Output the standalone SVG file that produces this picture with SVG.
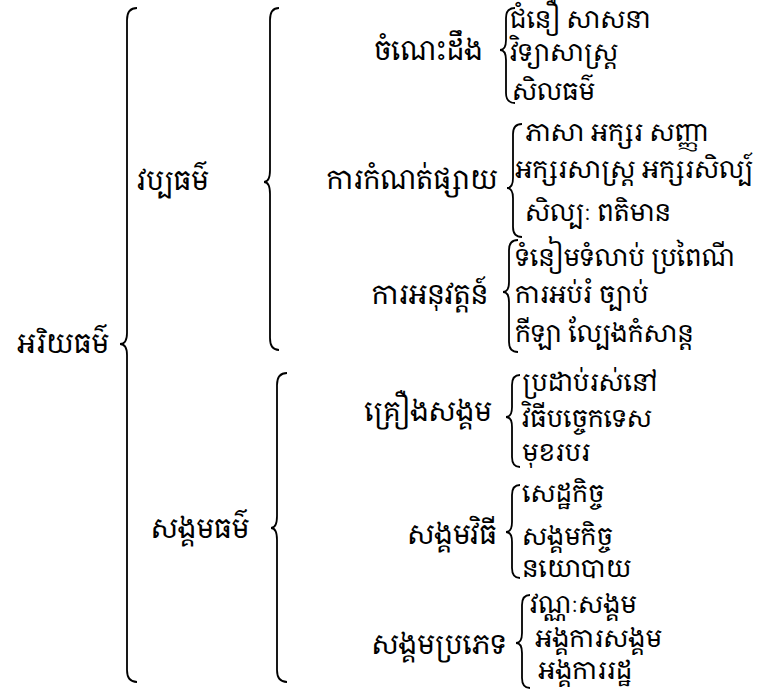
<svg xmlns="http://www.w3.org/2000/svg" width="765" height="690" viewBox="0 0 765 690">
<style>
text{font-family:"Khmer OS System","Khmer OS","Noto Serif Khmer","Noto Sans Khmer","Khmer UI","DejaVu Sans",sans-serif;font-size:25px;fill:#000}
.lab{font-size:27px;text-anchor:middle}
.br{fill:none;stroke:#000;stroke-width:1.8}
</style>
<rect width="765" height="690" fill="#fff"/>
<g id="connectors">
<path class="br" d="M137,8 Q127,8 127,20 L127,333 Q127,344 120,344 Q127,344 127,355 L127,670 Q127,682 137,682"/>
<path class="br" d="M279,8 Q270,8 270,20 L270,170 Q270,182 264,182 Q270,182 270,194 L270,338 Q270,350 279,350"/>
<path class="br" d="M287,373 Q277,373 277,385 L277,516 Q277,528 271,528 Q277,528 277,540 L277,670 Q277,682 287,682"/>
<path class="br" d="M515,8 Q506,8 506,18 L506,40 Q506,50 500,50 Q506,50 506,60 L506,93 Q506,103 515,103"/>
<path class="br" d="M522,124 Q513,124 513,134 L513,178 Q513,188 507,188 Q513,188 513,198 L513,227 Q513,237 522,237"/>
<path class="br" d="M518,240 Q509,240 509,250 L509,282 Q509,292 503,292 Q509,292 509,302 L509,342 Q509,352 518,352"/>
<path class="br" d="M520,375 Q512,375 512,385 L512,407 Q512,417 506,417 Q512,417 512,427 L512,457 Q512,467 520,467"/>
<path class="br" d="M520,485 Q512,485 512,495 L512,522 Q512,532 506,532 Q512,532 512,542 L512,568 Q512,578 520,578"/>
<path class="br" d="M530,595 Q522,595 522,605 L522,633 Q522,643 516,643 Q522,643 522,653 L522,678 Q522,688 530,688"/>
</g>
<g id="n0"><text class="lab" x="63" y="353">អរិយធម៌</text></g>
<g id="n1"><text class="lab" x="173" y="190">វប្បធម៌</text></g>
<g id="n2"><text class="lab" x="200" y="538">សង្គមធម៌</text></g>
<g id="n3"><text class="lab" x="428" y="60">ចំណេះដឹង</text></g>
<g id="n3a"><text x="510" y="28">ជំនឿ សាសនា</text></g>
<g id="n3b"><text x="510" y="61">វិទ្យាសាស្រ្ត</text></g>
<g id="n3c"><text x="512" y="100">សិលធម៌</text></g>
<g id="n4"><text class="lab" x="412" y="189">ការកំណត់ផ្សាយ</text></g>
<g id="n4a"><text x="525" y="141">ភាសា អក្សរ សញ្ញា</text></g>
<g id="n4b"><text x="515" y="178">អក្សរសាស្រ្ត អក្សរសិល្ប៍</text></g>
<g id="n4c"><text x="525" y="221">សិល្បៈ ពតិមាន</text></g>
<g id="n5"><text class="lab" x="430" y="304">ការអនុវត្តន៍</text></g>
<g id="n5a"><text x="515" y="266">ទំនៀមទំលាប់ ប្រពៃណី</text></g>
<g id="n5b"><text x="515" y="303">ការអប់រំ ច្បាប់</text></g>
<g id="n5c"><text x="515" y="342">កីឡា ល្បែងកំសាន្ត</text></g>
<g id="n6"><text class="lab" x="428" y="421">គ្រឿងសង្គម</text></g>
<g id="n6a"><text x="522" y="391">ប្រដាប់រស់នៅ</text></g>
<g id="n6b"><text x="522" y="427">វិធីបច្ចេកទេស</text></g>
<g id="n6c"><text x="522" y="461">មុខរបរ</text></g>
<g id="n7"><text class="lab" x="452" y="544">សង្គមវិធី</text></g>
<g id="n7a"><text x="522" y="502">សេដ្ឋកិច្ច</text></g>
<g id="n7b"><text x="522" y="545">សង្គមកិច្ច</text></g>
<g id="n7c"><text x="522" y="577">នយោបាយ</text></g>
<g id="n8"><text class="lab" x="439" y="654">សង្គមប្រភេទ</text></g>
<g id="n8a"><text x="530" y="613">វណ្ណៈសង្គម</text></g>
<g id="n8b"><text x="535" y="647">អង្គការសង្គម</text></g>
<g id="n8c"><text x="538" y="679">អង្គការរដ្ឋ</text></g>
</svg>
